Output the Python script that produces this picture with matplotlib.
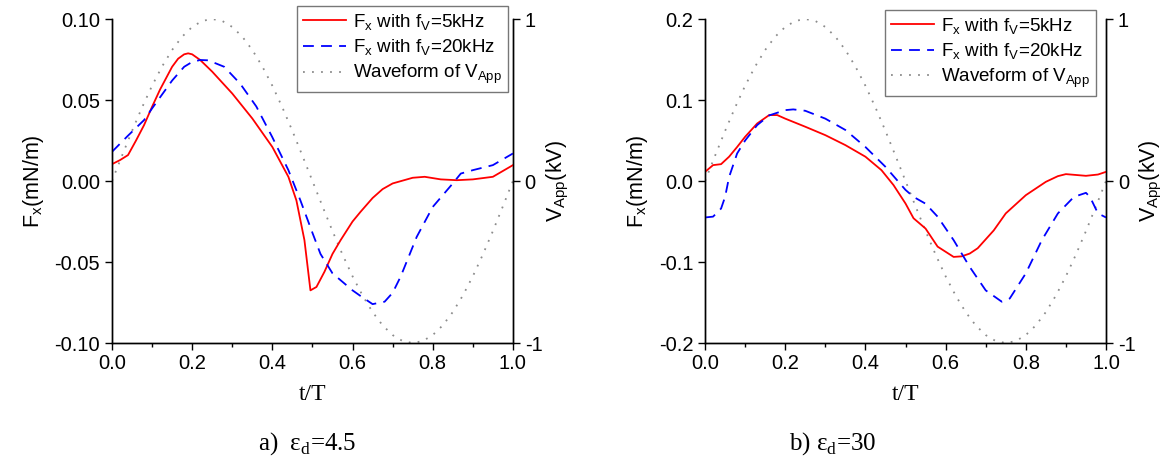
import matplotlib
matplotlib.use("Agg")
import matplotlib.pyplot as plt
import numpy as np

plt.rcParams['font.family'] = ['Liberation Sans', 'DejaVu Sans']
plt.rcParams['mathtext.fontset'] = 'custom'
plt.rcParams['mathtext.rm'] = 'Liberation Sans'
plt.rcParams['mathtext.it'] = 'Liberation Sans'

# ── 데이터 ─────────────────────────────────────────────────────────
# a) eps_d = 4.5
t_a5 = [0.0, 0.02, 0.04, 0.06, 0.08, 0.10, 0.12, 0.15, 0.165, 0.18, 0.19, 0.20, 0.22,
        0.25, 0.30, 0.35, 0.40, 0.44, 0.46, 0.48, 0.495, 0.51, 0.53, 0.55, 0.57, 0.60,
        0.62, 0.65, 0.675, 0.70, 0.75, 0.78, 0.82, 0.86, 0.90, 0.95, 1.0]
fx_a5 = [0.0104, 0.0129, 0.016, 0.025, 0.0345, 0.0458, 0.0565, 0.0705, 0.0755, 0.0782,
         0.0788, 0.0782, 0.0747, 0.0675, 0.054, 0.0386, 0.021, 0.0026, -0.012, -0.0365,
         -0.0675, -0.0654, -0.056, -0.045, -0.0366, -0.025, -0.019, -0.0105, -0.005,
         -0.0015, 0.002, 0.0026, 0.001, 0.0005, 0.001, 0.0026, 0.0098]

t_a20 = [0.0, 0.04, 0.08, 0.10, 0.15, 0.18, 0.20, 0.22, 0.24, 0.26, 0.28, 0.32, 0.36,
         0.40, 0.44, 0.47, 0.50, 0.52, 0.55, 0.60, 0.62, 0.65, 0.68, 0.70, 0.72, 0.76,
         0.80, 0.85, 0.87, 0.90, 0.95, 1.0]
fx_a20 = [0.018, 0.028, 0.0376, 0.0448, 0.062, 0.0705, 0.0735, 0.0747, 0.0745, 0.0725,
          0.0705, 0.060, 0.046, 0.027, 0.0067, -0.012, -0.032, -0.045, -0.057, -0.0675,
          -0.071, -0.076, -0.0745, -0.069, -0.059, -0.0345, -0.016, -0.0015, 0.0046,
          0.0067, 0.0098, 0.017]

# b) eps_d = 30
t_b5 = [0.0, 0.02, 0.04, 0.06, 0.08, 0.10, 0.13, 0.16, 0.18, 0.20, 0.25, 0.30, 0.35,
        0.40, 0.44, 0.47, 0.50, 0.52, 0.55, 0.58, 0.62, 0.64, 0.66, 0.68, 0.72, 0.75,
        0.80, 0.85, 0.88, 0.90, 0.95, 0.98, 1.0]
fx_b5 = [0.0113, 0.0196, 0.0208, 0.030, 0.042, 0.0546, 0.071, 0.0814, 0.0814, 0.077,
         0.067, 0.0566, 0.0443, 0.030, 0.0134, -0.005, -0.0278, -0.046, -0.0587, -0.081,
         -0.0937, -0.093, -0.0896, -0.083, -0.061, -0.040, -0.0175, -0.001, 0.006,
         0.0085, 0.0064, 0.008, 0.0113]

t_b20 = [0.0, 0.02, 0.04, 0.05, 0.06, 0.08, 0.10, 0.13, 0.16, 0.20, 0.22, 0.25, 0.30,
         0.35, 0.40, 0.45, 0.50, 0.52, 0.55, 0.58, 0.62, 0.66, 0.70, 0.74, 0.76, 0.80,
         0.84, 0.88, 0.92, 0.95, 0.96, 0.98, 1.0]
fx_b20 = [-0.045, -0.044, -0.034, -0.0196, 0.005, 0.034, 0.050, 0.069, 0.081, 0.0875,
          0.0884, 0.0867, 0.077, 0.063, 0.042, 0.0175, -0.011, -0.0196, -0.028, -0.044,
          -0.073, -0.106, -0.135, -0.149, -0.145, -0.114, -0.073, -0.040, -0.0196,
          -0.0146, -0.0196, -0.040, -0.045]

# 인가 전압 파형 (양쪽 동일)
t_v = [0.0, 0.025, 0.05, 0.075, 0.10, 0.125, 0.15, 0.175, 0.20, 0.225, 0.25, 0.275,
       0.30, 0.325, 0.35, 0.375, 0.40, 0.425, 0.45, 0.475, 0.50, 0.525, 0.55, 0.575,
       0.60, 0.625, 0.65, 0.675, 0.70, 0.725, 0.75, 0.775, 0.80, 0.825, 0.85, 0.875,
       0.90, 0.925, 0.95, 0.975, 1.0]
v_app = [0.0, 0.156, 0.309, 0.454, 0.588, 0.707, 0.809, 0.891, 0.951, 0.988, 1.0,
         0.988, 0.951, 0.891, 0.809, 0.707, 0.588, 0.454, 0.309, 0.156, 0.0, -0.156,
         -0.309, -0.454, -0.588, -0.707, -0.809, -0.891, -0.951, -0.988, -1.0, -0.988,
         -0.951, -0.891, -0.809, -0.707, -0.588, -0.454, -0.309, -0.156, 0.0]

panels = [
    dict(t5=t_a5, f5=fx_a5, t20=t_a20, f20=fx_a20, ylim=0.10,
         yticks=[-0.10, -0.05, 0.0, 0.05, 0.10], fmt="{:.2f}",
         rect=[0.0957, 0.2527, 0.3427, 0.7059], leg=(0.9875, 1.040),
         cap="a)  ε$_\\mathregular{d}$=4.5", capx=307 / 1170),
    dict(t5=t_b5, f5=fx_b5, t20=t_b20, f20=fx_b20, ylim=0.2,
         yticks=[-0.2, -0.1, 0.0, 0.1, 0.2], fmt="{:.1f}",
         rect=[0.6026, 0.2527, 0.3427, 0.7059], leg=(0.975, 1.028),
         cap="b) ε$_\\mathregular{d}$=30", capx=833 / 1170),
]

fig = plt.figure(figsize=(11.7, 4.59), dpi=100)
TS = 14.5

for p in panels:
    ax = fig.add_axes(p["rect"])
    ax2 = ax.twinx()
    ax.set_zorder(ax2.get_zorder() + 1)
    ax.patch.set_visible(False)

    l1, = ax.plot(p["t5"], p["f5"], color="red", lw=1.3,
                  label="F$_\\mathregular{x}$ with f$_\\mathregular{V}$=5kHz")
    l2, = ax.plot(p["t20"], p["f20"], color="blue", lw=1.3, ls=(0, (6, 4)),
                  label="F$_\\mathregular{x}$ with f$_\\mathregular{V}$=20kHz")
    l3, = ax2.plot(t_v, v_app, color="#8c8c8c", lw=1.3, ls=(0, (1, 4)),
                   label="Waveform of V$_\\mathregular{App}$")

    ax.set_xlim(0, 1)
    ax.set_ylim(-p["ylim"], p["ylim"])
    ax.set_xticks(np.arange(0, 1.01, 0.2))
    ax.set_xticklabels([f"{v:.1f}" for v in np.arange(0, 1.01, 0.2)], fontsize=TS)
    ax.set_xticks(np.arange(0.1, 1.0, 0.2), minor=True)
    ax.set_yticks(p["yticks"])
    ax.set_yticklabels([p["fmt"].format(v) for v in p["yticks"]], fontsize=TS)
    ax.tick_params(which="major", direction="out", length=5, width=1)
    ax.tick_params(which="minor", direction="out", length=3, width=1)
    ax.tick_params(axis="x", pad=3)

    ax2.set_ylim(-1, 1)
    ax2.set_yticks([-1, 0, 1])
    ax2.set_yticklabels(["-1", "0", "1"], fontsize=TS)
    ax2.tick_params(direction="out", length=5, width=1)

    for a in (ax, ax2):
        a.spines["top"].set_visible(False)
        for s in a.spines.values():
            s.set_linewidth(1)

    ax.set_ylabel("F$_\\mathregular{x}$(mN/m)", fontsize=15.5, labelpad=6)
    ax2.set_ylabel("V$_\\mathregular{App}$(kV)", fontsize=15.5, labelpad=2)
    ax.set_xlabel("t/T", fontsize=17, family="Liberation Serif", labelpad=8)

    leg = ax.legend(handles=[l1, l2, l3], loc="upper right", fontsize=13.5,
                    frameon=True, fancybox=False, edgecolor="#555555",
                    handlelength=2.3, borderpad=0.3, labelspacing=0.3,
                    handletextpad=0.4, borderaxespad=0,
                    bbox_to_anchor=p["leg"])
    leg.get_frame().set_linewidth(1)

    fig.text(p["capx"], 0.033, p["cap"], family="Liberation Serif", fontsize=18,
             ha="center", va="center")

fig.savefig("out.png", dpi=100)
